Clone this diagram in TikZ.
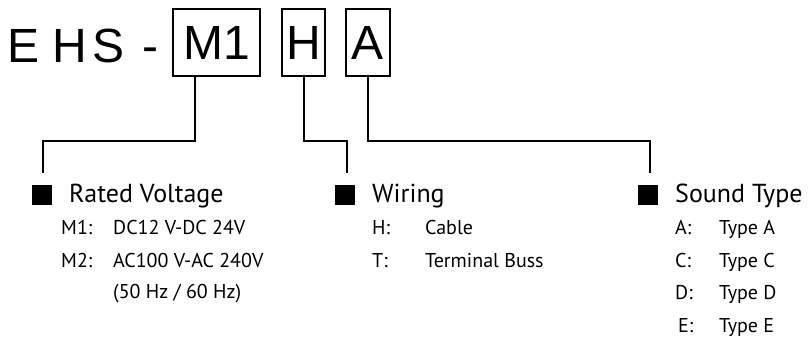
\documentclass[tikz,border=0pt]{standalone}
\usepackage{fontspec}
\setmainfont{PT Sans}
\newfontfamily\arialfont{Liberation Sans}
\begin{document}
\begin{tikzpicture}[x=1pt,y=-1pt,
  bigtext/.style={anchor=base,inner sep=0pt,font=\arialfont\fontsize{48}{48}\selectfont},
  codebox/.style={draw,line width=1.5pt,minimum height=67pt,inner sep=0pt,font=\arialfont\fontsize{48}{48}\selectfont},
  link/.style={line width=2pt},
  bulletsq/.style={fill=black,minimum size=20pt,inner sep=0pt},
  heading/.style={anchor=base west,inner sep=0pt,font=\fontsize{26}{26}\selectfont},
  item/.style={anchor=base west,inner sep=0pt,font=\fontsize{20}{20}\selectfont}]
\useasboundingbox (0,0) rectangle (811,341);
% part number
\node[bigtext] (pe) at (23.5,62) {E};
\node[bigtext] (ph) at (70,62) {H};
\node[bigtext] (ps) at (108.5,62) {S};
\node[bigtext] (pd) at (150,62) {-};
\node[codebox,minimum width=87pt] (m1) at (216.5,42.5) {M1};
\node[codebox,minimum width=43pt] (h) at (303.5,42.5) {H};
\node[codebox,minimum width=44pt] (a) at (368,42.5) {A};
% bullets
\node[bulletsq] (b1) at (42,194.5) {};
\node[bulletsq] (b2) at (345,194.5) {};
\node[bulletsq] (b3) at (648,194.5) {};
\coordinate (e1) at (43,173);
\coordinate (e2) at (347,173);
\coordinate (e3) at (650,173);
\draw[link] (m1.south -| 195,0) -- (195,141) -| (e1);
\draw[link] (h.south) -- (303.5,141) -| (e2);
\draw[link] (a.south) -- (368,141) -| (e3);
% Rated voltage
\node[heading] (t1) at (69,202) {Rated Voltage};
\node[item] (k11) at (61,234) {M1:};
\node[item] (v11) at (113,234) {DC12 V-DC 24V};
\node[item] (k12) at (61,267) {M2:};
\node[item] (v12) at (113,267) {AC100 V-AC 240V};
\node[item] (v13) at (113,298) {(50 Hz / 60 Hz)};
% Wiring
\node[heading] (t2) at (372,202) {Wiring};
\node[item] (k21) at (372,234) {H:};
\node[item] (v21) at (425,234) {Cable};
\node[item] (k22) at (372,267) {T:};
\node[item] (v22) at (425,267) {Terminal Buss};
% Sound type
\node[heading] (t3) at (675,202) {Sound Type};
\node[item] (k31) at (675,234) {A:};
\node[item] (v31) at (719,234) {Type A};
\node[item] (k32) at (675,267) {C:};
\node[item] (v32) at (719,267) {Type C};
\node[item] (k33) at (675,299) {D:};
\node[item] (v33) at (719,299) {Type D};
\node[item] (k34) at (678,332) {E:};
\node[item] (v34) at (719,332) {Type E};
\end{tikzpicture}
\end{document}
